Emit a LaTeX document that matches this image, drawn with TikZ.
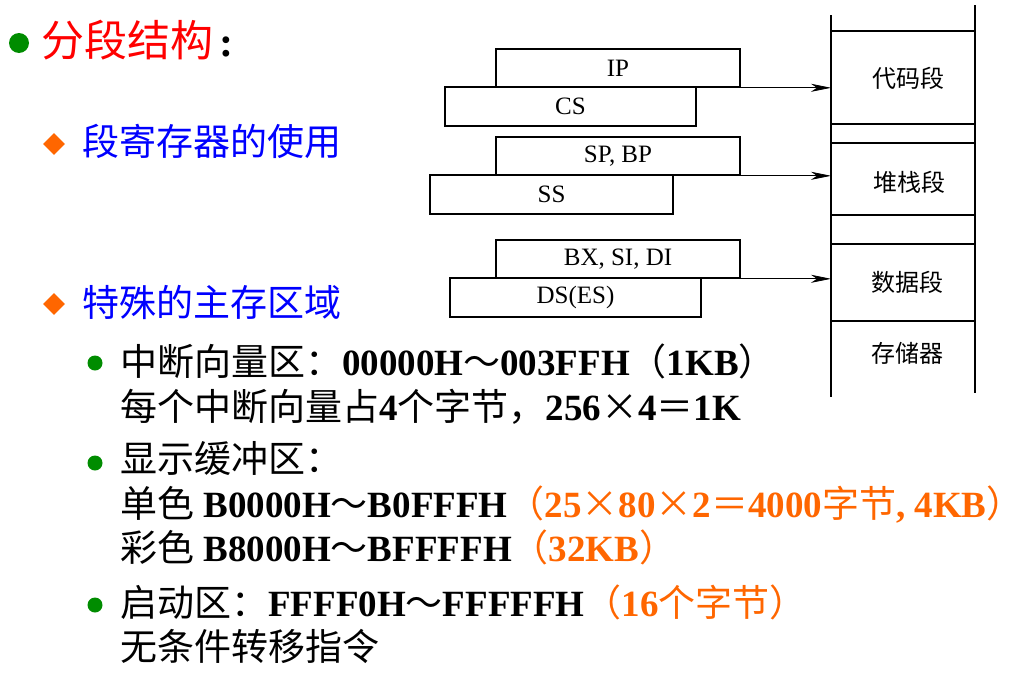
\documentclass[tikz,border=0pt]{standalone}
\usepackage{fontspec}
\setmainfont{Liberation Serif}
\newfontfamily\zh{Noto Sans CJK SC}
\usetikzlibrary{arrows.meta,shapes.geometric}
\definecolor{tgreen}{RGB}{0,140,0}
\definecolor{torange}{RGB}{255,102,0}
\definecolor{tblue}{RGB}{0,0,255}
\definecolor{tred}{RGB}{255,0,0}
\newcommand\zc[1]{{\mdseries\zh #1}}
\begin{document}
\begin{tikzpicture}[x=1pt,y=-1pt,
  regbox/.style={draw, line width=1.6pt, inner sep=0pt, font=\fontsize{25}{25}\selectfont},
  memline/.style={line width=1.6pt},
  ptr/.style={line width=0.8pt, -{Stealth[length=20pt,width=8pt,inset=6pt]}},
  seglabel/.style={inner sep=0pt, font=\zh\fontsize{24}{24}\selectfont},
  bigdot/.style={circle, fill=tgreen, inner sep=0pt, minimum size=20pt},
  smalldot/.style={circle, fill=tgreen, inner sep=0pt, minimum size=15pt},
  diam/.style={diamond, fill=torange, inner sep=0pt, minimum size=22pt},
  head/.style={anchor=west, inner sep=0pt, text=tblue, font=\zh\fontsize{37}{37}\selectfont},
  txt/.style={anchor=base west, inner sep=0pt, font=\fontsize{37}{37}\selectfont\bfseries}
]
\useasboundingbox (0,0) rectangle (1016,680);

% ---------- left text ----------
\node[bigdot] (b0) at (19,43) {};
\node[anchor=west, inner sep=0pt, text=tred, font=\zh\fontsize{43}{43}\selectfont] (title) at (41,40) {分段结构};
\node[anchor=base west, inner sep=0pt, font=\fontsize{42}{42}\selectfont\bfseries, xshift=6pt] (colon) at (title.base east) {:};

\node[diam] (d1) at (54,144) {};
\node[head] (h1) at (82,141) {段寄存器的使用};
\node[diam] (d2) at (54,304) {};
\node[head] (h2) at (82,302) {特殊的主存区域};

\node[smalldot] (s1) at (95,363) {};
\node[txt] (l1) at (120,375) {\zc{中断向量区：}00000H\zc{～}003FFH\zc{（}1KB\zc{）}};
\node[txt] (l2) at (120,420) {\zc{每个中断向量占}4\zc{个字节，}256\zc{×}4\zc{＝}1K};
\node[smalldot] (s2) at (95,463) {};
\node[txt] (l3) at (120,472) {\zc{显示缓冲区：}};
\node[txt] (l4) at (120,517) {\zc{单色} B0000H\zc{～}B0FFFH\textcolor{torange}{\zc{（}25\zc{×}80\zc{×}2\zc{＝}4000\zc{字节}, 4KB\makebox[0.45em][l]{\zc{）}}}};
\node[txt] (l5) at (120,561) {\zc{彩色} B8000H\zc{～}BFFFFH\textcolor{torange}{\zc{（}32KB\zc{）}}};
\node[smalldot] (s3) at (95,605) {};
\node[txt] (l6) at (120,616) {\zc{启动区：}FFFF0H\zc{～}FFFFFH\textcolor{torange}{\zc{（}16\zc{个字节）}}};
\node[txt] (l7) at (120,660) {\zc{无条件转移指令}};

% ---------- memory column ----------
\coordinate (mltop) at (831,15);
\coordinate (mlbot) at (831,397);
\coordinate (mrtop) at (975,5);
\coordinate (mrbot) at (975,393);
\draw[memline] (mltop) -- (mlbot);
\draw[memline] (mrtop) -- (mrbot);
\foreach \yy in {31,124,143,215,244,321}
  \draw[memline] (831,\yy) -- (975,\yy);
\node[seglabel] (code) at (908,78) {代码段};
\node[seglabel] (stack) at (909,182) {堆栈段};
\node[seglabel] (data) at (907,282) {数据段};
\node[seglabel] (store) at (907,353) {存储器};

% ---------- registers ----------
\node[regbox, minimum width=244pt, minimum height=38pt] (ip) at (618,68) {IP};
\node[regbox, minimum width=251pt, minimum height=39pt] (cs) at (570.5,106.5) {CS};
\node[regbox, minimum width=244pt, minimum height=38pt] (spbp) at (618,156) {SP, BP};
\node[regbox, minimum width=243pt, minimum height=39pt] (ss) at (551.5,194.5) {SS};
\node[regbox, minimum width=244pt, minimum height=38pt] (bx) at (618,259) {BX, SI, DI};
\node[regbox, minimum width=251pt, minimum height=39pt] (ds) at (575.5,297.5) {DS(ES)};

\draw[ptr] (ip.south east) -- (ip.south east -| mltop);
\draw[ptr] (spbp.south east) -- (spbp.south east -| mltop);
\draw[ptr] (bx.south east) -- (bx.south east -| mltop);
\end{tikzpicture}
\end{document}
